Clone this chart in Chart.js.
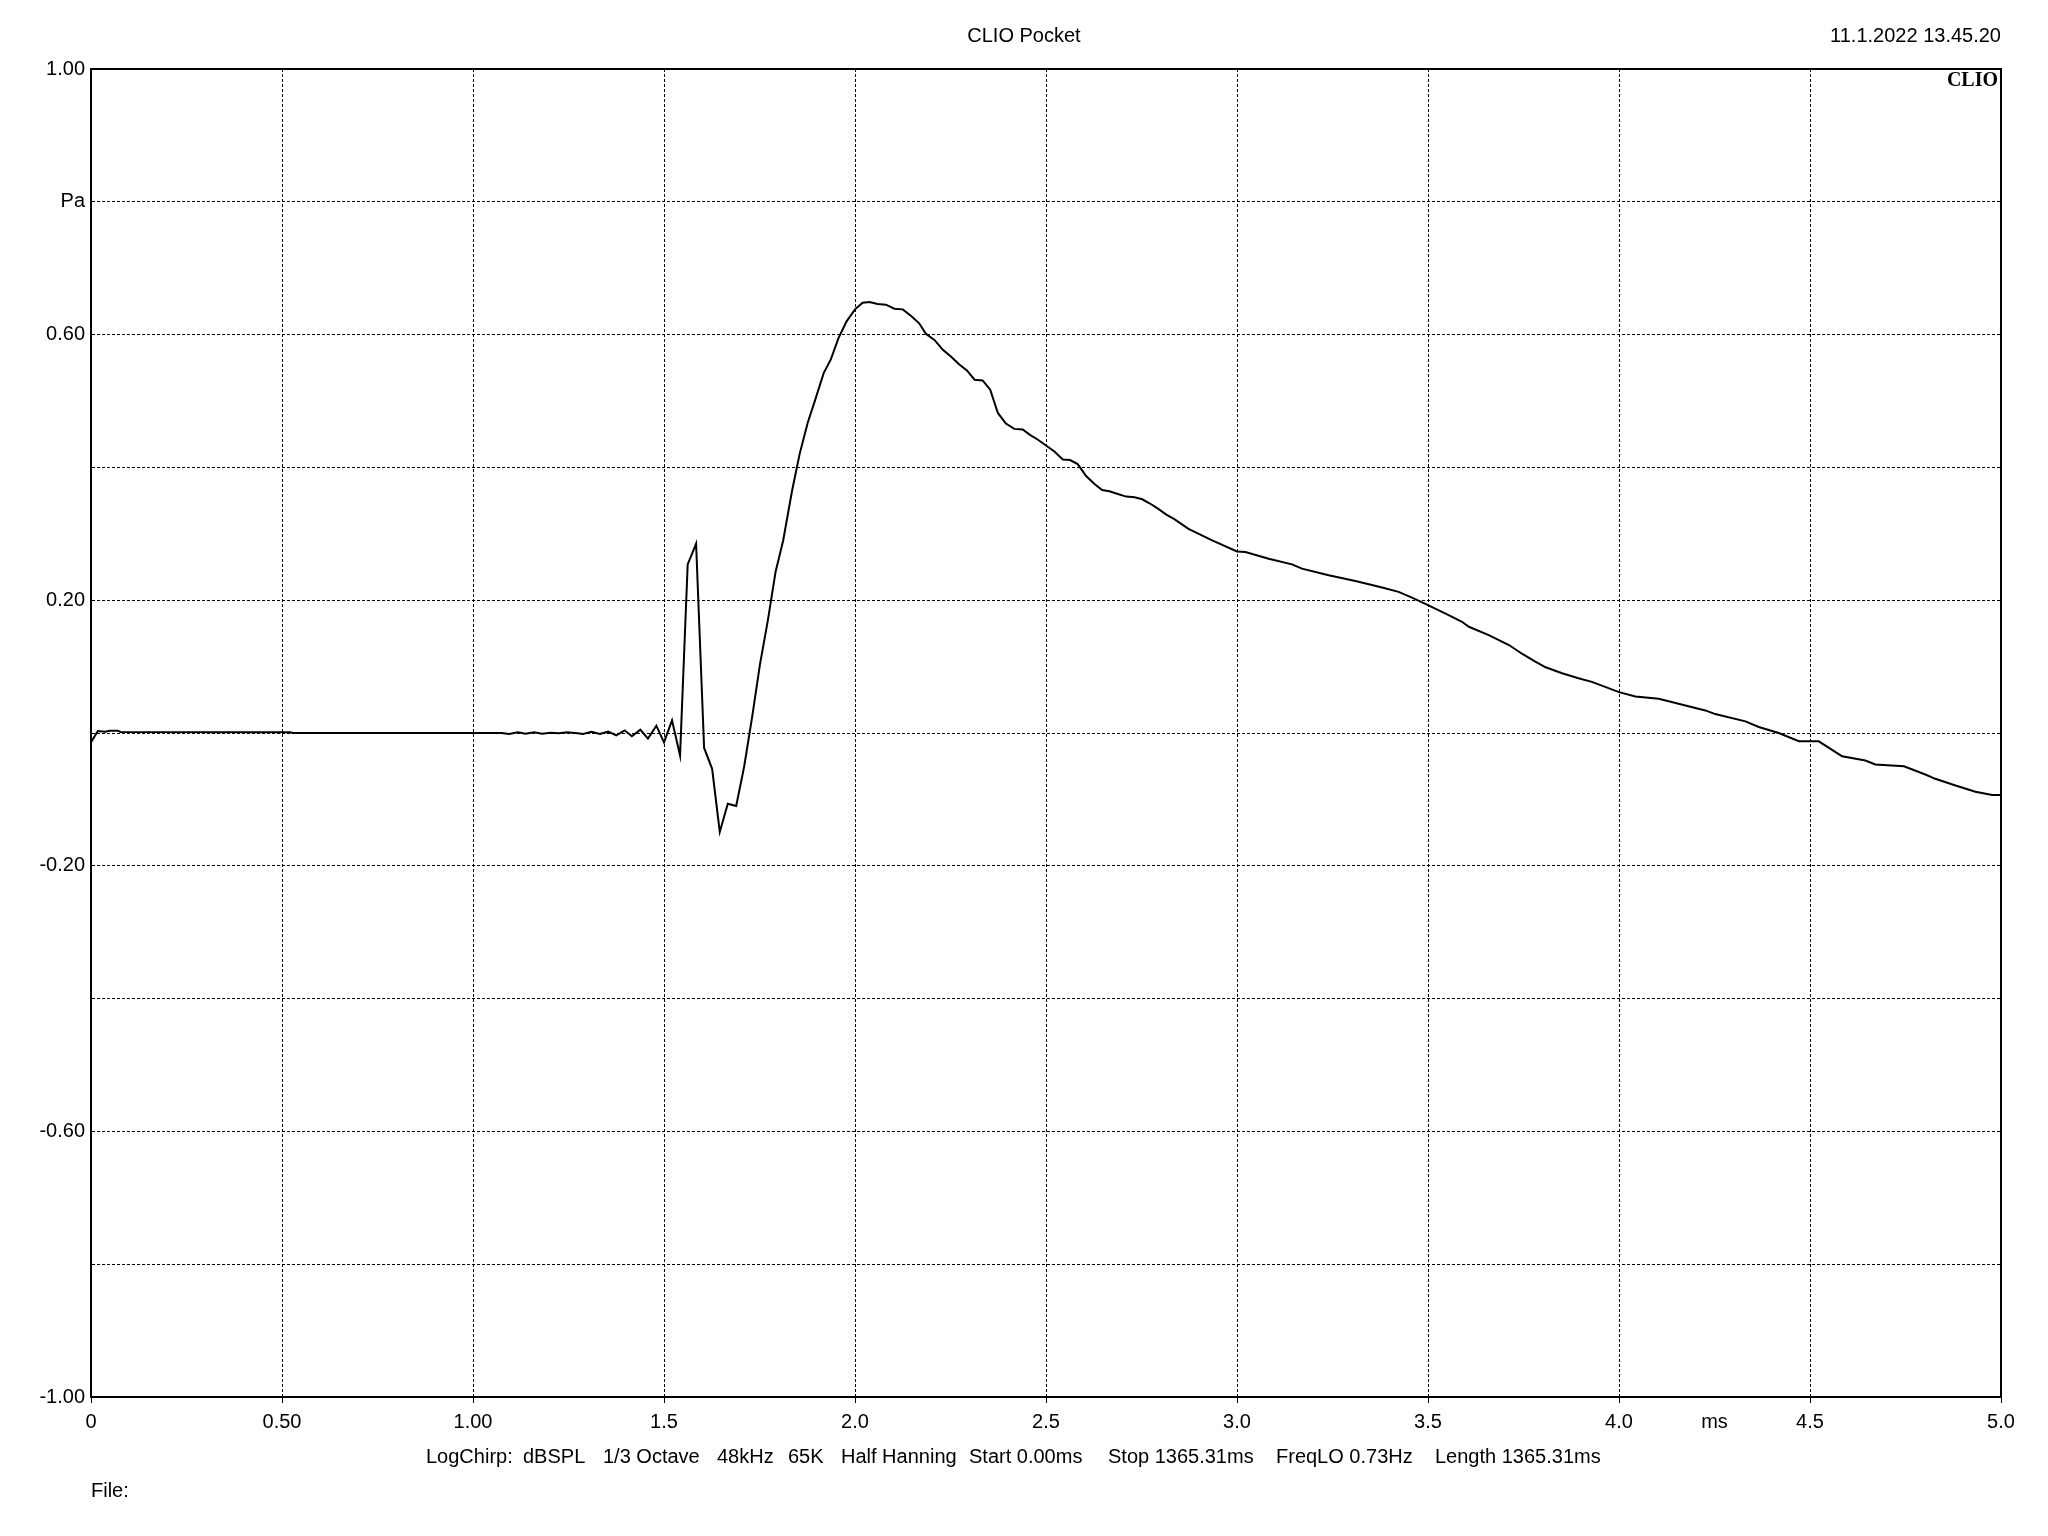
<!DOCTYPE html>
<html>
<head>
<meta charset="utf-8">
<title>CLIO Pocket</title>
<script src="https://cdn.jsdelivr.net/npm/chart.js@4.4.1/dist/chart.umd.min.js"></script>
<style>
  html, body { margin: 0; padding: 0; background: #fff; }
  #wrap { position: relative; width: 2048px; height: 1536px; }
  #chart { position: absolute; left: 0; top: 0; }
  .txt { position: absolute; font-family: "Liberation Sans", Arial, sans-serif; font-size: 20px; color: #000; white-space: pre; line-height: 1; }
  .logo { position: absolute; font-family: "Liberation Serif", "Times New Roman", serif; font-weight: bold; font-size: 20px; line-height: 1; color: #000; }
</style>
</head>
<body>
<div id="wrap">
  <canvas id="chart" width="2048" height="1536"></canvas>
  <div class="txt" style="left:0;width:2048px;text-align:center;top:25px;">CLIO Pocket</div>
  <div class="txt" style="right:47px;top:25px;">11.1.2022 13.45.20</div>
  <div class="logo" style="right:50px;top:69px;">CLIO</div>
  <div class="txt" style="left:426px;top:1446px;">LogChirp:</div>
  <div class="txt" style="left:523px;top:1446px;">dBSPL</div>
  <div class="txt" style="left:603px;top:1446px;">1/3 Octave</div>
  <div class="txt" style="left:717px;top:1446px;">48kHz</div>
  <div class="txt" style="left:788px;top:1446px;">65K</div>
  <div class="txt" style="left:841px;top:1446px;">Half Hanning</div>
  <div class="txt" style="left:969px;top:1446px;">Start 0.00ms</div>
  <div class="txt" style="left:1108px;top:1446px;">Stop 1365.31ms</div>
  <div class="txt" style="left:1276px;top:1446px;">FreqLO 0.73Hz</div>
  <div class="txt" style="left:1435px;top:1446px;">Length 1365.31ms</div>
  <div class="txt" style="left:91px;top:1480px;">File:</div>
</div>
<script>
// impulse response, time in ms, pressure in Pa
const timeMs = [
  0, 0.018, 0.037, 0.05, 0.07, 0.077, 0.52, 0.53, 1.074, 1.095,
  1.117, 1.138, 1.16, 1.181, 1.203, 1.225, 1.246, 1.268, 1.288, 1.31,
  1.332, 1.354, 1.375, 1.397, 1.416, 1.438, 1.458, 1.48, 1.5, 1.521,
  1.542, 1.562, 1.584, 1.605, 1.626, 1.646, 1.667, 1.689, 1.71, 1.731,
  1.751, 1.772, 1.792, 1.812, 1.835, 1.855, 1.876, 1.896, 1.918, 1.937,
  1.957, 1.978, 2.0, 2.02, 2.038, 2.059, 2.081, 2.103, 2.125, 2.147,
  2.168, 2.186, 2.208, 2.23, 2.251, 2.273, 2.293, 2.313, 2.334, 2.354,
  2.374, 2.395, 2.417, 2.439, 2.458, 2.478, 2.5, 2.522, 2.544, 2.563,
  2.583, 2.605, 2.627, 2.647, 2.666, 2.688, 2.71, 2.732, 2.752, 2.771,
  2.793, 2.815, 2.836, 2.873, 2.935, 3.0, 3.022, 3.083, 3.144, 3.17,
  3.24, 3.31, 3.38, 3.423, 3.458, 3.5, 3.554, 3.589, 3.607, 3.659,
  3.712, 3.747, 3.781, 3.808, 3.851, 3.894, 3.929, 4.0, 4.043, 4.104,
  4.156, 4.226, 4.252, 4.331, 4.366, 4.418, 4.471, 4.523, 4.584, 4.645,
  4.671, 4.746, 4.802, 4.828, 4.881, 4.933, 4.977, 5.0
];
const pressurePa = [
  -0.014, 0.003, 0.002, 0.0035, 0.0035, 0.0015, 0.001, 0.0, 0.0, -0.0015,
  0.001, -0.001, 0.001, -0.001, 0.0005, -0.0005, 0.001, 0.0, -0.0015, 0.002,
  -0.0015, 0.002, -0.0035, 0.004, -0.005, 0.005, -0.0085, 0.011, -0.014, 0.019,
  -0.034, 0.254, 0.285, -0.0225, -0.054, -0.149, -0.1065, -0.11, -0.05, 0.025,
  0.1025, 0.17, 0.2425, 0.29, 0.364, 0.42, 0.467, 0.502, 0.542, 0.563,
  0.595, 0.62, 0.638, 0.648, 0.649, 0.646, 0.645, 0.639, 0.638, 0.628,
  0.617, 0.601, 0.592, 0.577, 0.567, 0.555, 0.546, 0.532, 0.531, 0.517,
  0.482, 0.466, 0.458, 0.457, 0.449, 0.442, 0.433, 0.424, 0.412, 0.411,
  0.405, 0.387, 0.375, 0.366, 0.364, 0.36, 0.356, 0.355, 0.352, 0.346,
  0.338, 0.329, 0.322, 0.3075, 0.29, 0.2735, 0.2725, 0.2625, 0.254, 0.2475,
  0.2375, 0.229, 0.219, 0.2125, 0.204, 0.1925, 0.1775, 0.1675, 0.16, 0.1475,
  0.1325, 0.119, 0.1075, 0.099, 0.09, 0.0825, 0.077, 0.0615, 0.055, 0.0515,
  0.044, 0.034, 0.0285, 0.0175, 0.009, 0.0, -0.0125, -0.0125, -0.035, -0.0415,
  -0.0475, -0.05, -0.0625, -0.069, -0.079, -0.0885, -0.0935, -0.0935
];

const xTickValues = [0, 0.5, 1.0, 1.5, 2.0, 2.5, 3.0, 3.5, 4.0, 4.25, 4.5, 5.0];
const xTickLabels = ['0', '0.50', '1.00', '1.5', '2.0', '2.5', '3.0', '3.5', '4.0', 'ms', '4.5', '5.0'];
const yTickValues = [-1.0, -0.8, -0.6, -0.4, -0.2, 0.0, 0.2, 0.4, 0.6, 0.8, 1.0];
const yTickLabels = ['-1.00', '', '-0.60', '', '-0.20', '', '0.20', '', '0.60', 'Pa', '1.00'];

const FONT = { family: '"Liberation Sans", Arial, sans-serif', size: 20 };

// solid black frame round the plot area
const framePlugin = {
  id: 'frame',
  afterDraw(chart) {
    const { ctx, chartArea: a } = chart;
    ctx.save();
    ctx.strokeStyle = '#000';
    ctx.lineWidth = 2;
    ctx.setLineDash([]);
    ctx.strokeRect(a.left, a.top, a.right - a.left, a.bottom - a.top);
    ctx.restore();
  }
};

const ctx = document.getElementById('chart').getContext('2d');
new Chart(ctx, {
  type: 'scatter',
  data: {
    datasets: [{
      data: timeMs.map((t, i) => ({ x: t, y: pressurePa[i] })),
      showLine: true,
      borderColor: '#000',
      borderWidth: 2,
      pointRadius: 0,
      tension: 0
    }]
  },
  options: {
    responsive: false,
    animation: false,
    devicePixelRatio: 1,
    layout: { padding: { left: 0, right: 47, top: 69, bottom: 0 } },
    plugins: { legend: { display: false }, tooltip: { enabled: false } },
    scales: {
      x: {
        type: 'linear',
        min: 0,
        max: 5,
        afterBuildTicks: s => { s.ticks = xTickValues.map(v => ({ value: v })); },
        afterFit: s => { s.height = 139; },
        ticks: {
          autoSkip: false,
          maxRotation: 0,
          color: '#000',
          font: FONT,
          padding: 7,
          callback: (v, i) => xTickLabels[i]
        },
        grid: {
          color: c => (c.index !== undefined && xTickLabels[c.index] === 'ms') ? 'rgba(0,0,0,0)' : '#000',
          lineWidth: 1,
          tickLength: 6
        },
        border: { display: true, color: '#000', width: 2, dash: [3, 2] }
      },
      y: {
        min: -1,
        max: 1,
        afterBuildTicks: s => { s.ticks = yTickValues.map(v => ({ value: v })); },
        afterFit: s => { s.width = 91; },
        ticks: {
          autoSkip: false,
          color: '#000',
          font: FONT,
          padding: 6,
          callback: (v, i) => yTickLabels[i]
        },
        grid: { color: '#000', lineWidth: 1, tickLength: 0 },
        border: { display: true, color: '#000', width: 2, dash: [3, 2] }
      }
    }
  },
  plugins: [framePlugin]
});
</script>
</body>
</html>
